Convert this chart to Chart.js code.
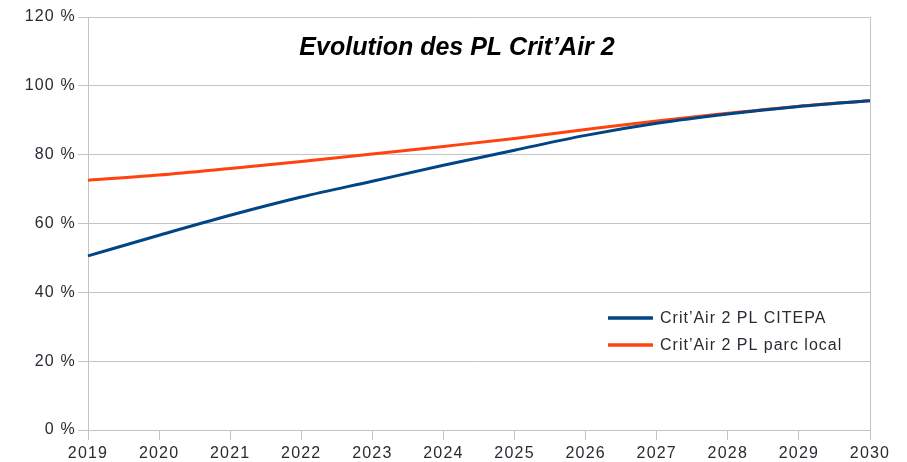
<!DOCTYPE html>
<html>
<head>
<meta charset="utf-8">
<script src="https://cdn.jsdelivr.net/npm/chart.js@4/dist/chart.umd.min.js"></script>
<style>
  html, body { margin: 0; padding: 0; background: #ffffff; }
  #wrap { width: 907px; height: 462px; position: relative; }
</style>
</head>
<body>
<div id="wrap"><canvas id="c" width="907" height="462"></canvas></div>
<script>
const years = ['2019','2020','2021','2022','2023','2024','2025','2026','2027','2028','2029','2030'];
const citepa = [50.6, 56.6, 62.4, 67.7, 72.3, 76.9, 81.3, 85.6, 89.1, 91.8, 94.0, 95.7];
const parcLocal = [72.6, 74.1, 76.0, 78.0, 80.2, 82.4, 84.7, 87.3, 89.8, 92.0, 94.1, 95.7];
const yTicks = [0, 20, 40, 60, 80, 100, 120];
const chartTitle = 'Evolution des PL Crit\u2019Air 2';
const seriesLabels = ['Crit\u2019Air 2 PL CITEPA', 'Crit\u2019Air 2 PL parc local'];

const FONT = '"Liberation Sans", Arial, sans-serif';
const TEXT = '#2a2a33';
const GRID = '#c4c4c4';

const spacingPlugin = {
  id: 'spacing',
  beforeLayout(chart) { chart.ctx.letterSpacing = '1.2px'; },
  beforeDraw(chart) { chart.ctx.letterSpacing = '1.2px'; }
};

const overlayPlugin = {
  id: 'overlay',
  afterDraw(chart) {
    const ctx = chart.ctx;
    const a = chart.chartArea;
    ctx.save();
    // right border of plot area
    ctx.strokeStyle = GRID;
    ctx.lineWidth = 1;
    ctx.beginPath();
    ctx.moveTo(Math.round(a.right) + 0.5, a.top);
    ctx.lineTo(Math.round(a.right) + 0.5, a.bottom);
    ctx.stroke();
    // title
    ctx.letterSpacing = '0px';
    ctx.font = 'italic bold 25px ' + FONT;
    ctx.fillStyle = '#000';
    ctx.textAlign = 'center';
    ctx.textBaseline = 'alphabetic';
    ctx.fillText(chartTitle, 457, 55);
    // legend
    ctx.letterSpacing = '1px';
    ctx.font = '16px ' + FONT;
    ctx.textAlign = 'left';
    ctx.textBaseline = 'middle';
    const rows = [318, 345];
    chart.data.datasets.forEach((ds, i) => {
      ctx.strokeStyle = ds.borderColor;
      ctx.lineWidth = 3.5;
      ctx.beginPath();
      ctx.moveTo(608, rows[i]);
      ctx.lineTo(653, rows[i]);
      ctx.stroke();
      ctx.fillStyle = TEXT;
      ctx.fillText(ds.label, 660, rows[i] + 1);
    });
    ctx.restore();
  }
};

new Chart(document.getElementById('c'), {
  type: 'line',
  data: {
    labels: years,
    datasets: [
      { label: seriesLabels[0], data: citepa, borderColor: '#004586', backgroundColor: '#004586',
        borderWidth: 3, pointRadius: 0, cubicInterpolationMode: 'monotone', fill: false },
      { label: seriesLabels[1], data: parcLocal, borderColor: '#ff420e', backgroundColor: '#ff420e',
        borderWidth: 3, pointRadius: 0, cubicInterpolationMode: 'monotone', fill: false }
    ]
  },
  options: {
    responsive: false,
    animation: false,
    devicePixelRatio: 1,
    layout: { padding: { left: 0, right: 37, top: 17, bottom: 0 } },
    plugins: {
      legend: { display: false },
      title: { display: false },
      tooltip: { enabled: false }
    },
    scales: {
      x: {
        type: 'category',
        offset: false,
        grid: { color: GRID, lineWidth: 1, tickLength: 10, drawOnChartArea: false, offset: false },
        border: { color: GRID, width: 1 },
        ticks: { color: TEXT, font: { family: FONT, size: 16 }, padding: 4, maxRotation: 0, autoSkip: false },
        afterFit(scale) { scale.height = 32; }
      },
      y: {
        min: 0, max: 120,
        afterBuildTicks(scale) { scale.ticks = yTicks.map(v => ({ value: v })); },
        grid: { color: GRID, lineWidth: 1, tickLength: 10 },
        border: { color: GRID, width: 1 },
        ticks: { color: TEXT, font: { family: FONT, size: 16 }, padding: 2,
                 callback: v => v + ' %' },
        afterFit(scale) { scale.width = 88; }
      }
    }
  },
  plugins: [spacingPlugin, overlayPlugin]
});
</script>
</body>
</html>
